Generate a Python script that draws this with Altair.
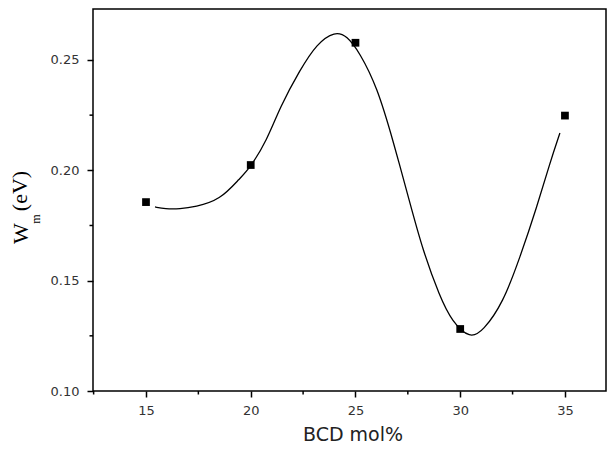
import altair as alt
import pandas as pd

# measured points (BCD mol%, W_m in eV)
pt_x = [15, 20, 25, 30, 35]
pt_y = [0.1856, 0.2024, 0.2578, 0.1281, 0.2248]

# smooth fitted curve
curve_x = [15.43, 15.91, 16.62, 17.34, 18.53, 19.49, 19.96, 20.78, 21.40, 22.35,
           23.16, 24.02, 24.59, 25.21, 26.03, 26.79, 27.60, 28.21, 29.03, 29.61,
           30.47, 31.09, 32.04, 32.86, 33.66, 34.28, 34.76]
curve_y = [0.1834, 0.1825, 0.1825, 0.1834, 0.1865, 0.1965, 0.2010, 0.2137, 0.2287, 0.2455,
           0.2575, 0.2630, 0.2610, 0.2532, 0.2378, 0.2137, 0.1852, 0.1639, 0.1426, 0.1315,
           0.1236, 0.1272, 0.1398, 0.1607, 0.1834, 0.2033, 0.2169]

x_ticks = [15, 20, 25, 30, 35]
x_minor = [12.5, 17.5, 22.5, 27.5, 32.5]
y_ticks = [0.10, 0.15, 0.20, 0.25]
y_minor = [0.125, 0.175, 0.225]

W, H = 513, 382
xscale = alt.Scale(domain=[12.47, 36.96], nice=False, zero=False)
yscale = alt.Scale(domain=[0.10, 0.2731], nice=False, zero=False)

pts = pd.DataFrame({"x": pt_x, "y": pt_y})
crv = pd.DataFrame({"x": curve_x, "y": curve_y})
xm = pd.DataFrame({"v": x_minor})
ym = pd.DataFrame({"v": y_minor})
one = pd.DataFrame({"a": [0]})

xaxis = alt.Axis(values=x_ticks, format="d", title=None, domain=False, grid=False,
                 tickSize=6, tickWidth=1.5, tickColor="black",
                 labelFont="DejaVu Sans", labelFontSize=13, labelColor="#333333",
                 labelPadding=7)
yaxis = alt.Axis(values=y_ticks, format=".2f", title=None, domain=False, grid=False,
                 tickSize=6, tickWidth=1.5, tickColor="black",
                 labelFont="DejaVu Sans", labelFontSize=13, labelColor="#333333",
                 labelPadding=8)

curve = alt.Chart(crv).mark_line(color="black", strokeWidth=1.3, interpolate="basis").encode(
    x=alt.X("x:Q", scale=xscale, axis=xaxis),
    y=alt.Y("y:Q", scale=yscale, axis=yaxis),
)
points = alt.Chart(pts).mark_square(color="black", size=60, opacity=1).encode(
    x=alt.X("x:Q", scale=xscale),
    y=alt.Y("y:Q", scale=yscale),
)
xminor = alt.Chart(xm).mark_rule(color="black", strokeWidth=1.5).encode(
    x=alt.X("v:Q", scale=xscale),
    y=alt.value(H), y2=alt.value(H + 3.5),
)
yminor = alt.Chart(ym).mark_rule(color="black", strokeWidth=1.5).encode(
    y=alt.Y("v:Q", scale=yscale),
    x=alt.value(0), x2=alt.value(-3.5),
)

xtitle = alt.Chart(one).mark_text(text="BCD mol%", font="DejaVu Sans", fontSize=19,
                                  color="#222222", align="center", baseline="alphabetic").encode(
    x=alt.value(260), y=alt.value(432))
t_w = alt.Chart(one).mark_text(text="W", font="Liberation Serif", fontSize=22, angle=270,
                               color="black", align="center", baseline="alphabetic").encode(
    x=alt.value(-65), y=alt.value(224.5))
t_m = alt.Chart(one).mark_text(text="m", font="Liberation Serif", fontSize=12, angle=270,
                               color="black", align="center", baseline="alphabetic").encode(
    x=alt.value(-53), y=alt.value(210))
t_ev = alt.Chart(one).mark_text(text="(eV)", font="Liberation Serif", fontSize=22, angle=270,
                                color="black", align="center", baseline="alphabetic").encode(
    x=alt.value(-66), y=alt.value(182))

chart = alt.layer(curve, points, xminor, yminor, xtitle, t_w, t_m, t_ev).properties(
    width=W, height=H,
    autosize=alt.AutoSizeParams(type="none"),
    padding={"left": 85, "top": 1, "right": 2, "bottom": 56},
    background="white",
).configure_view(stroke="black", strokeWidth=1.5)

chart.save("out.html", embed_options={"renderer": "svg", "actions": False})
